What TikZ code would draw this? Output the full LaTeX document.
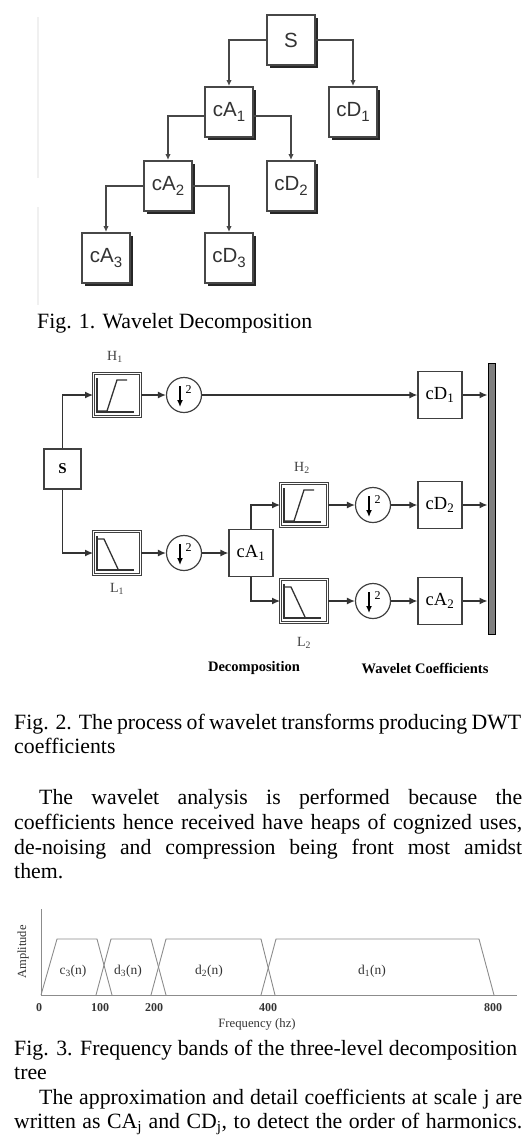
\documentclass[tikz,border=0pt]{standalone}
\usepackage{fontspec}
\setmainfont{Liberation Serif}
\newfontfamily\arialfont{Liberation Sans}
\usetikzlibrary{arrows.meta,shadows}
\newcommand\treesub[1]{\raisebox{-0.28em}{\fontsize{15}{15}\selectfont #1}}
\tikzset{
  treebox/.style={draw=black!72,line width=2pt,fill=white,minimum width=48pt,minimum height=50pt,inner sep=0pt,
                  font=\arialfont\fontsize{20.5}{20.5}\selectfont,text=black!80,
                  drop shadow={shadow xshift=3pt,shadow yshift=-3pt,fill=black!85,opacity=1}},
  treeedge/.style={draw=black!72,line width=2.2pt,-{Latex[length=6pt,width=5.5pt]}},
  coefbox/.style={draw=black!75,line width=1.2pt,fill=white,minimum width=44pt,minimum height=47pt,inner sep=0pt,
                  font=\fontsize{18.5}{18.5}\selectfont},
  filtbox/.style={draw=black!75,line width=0.9pt,double=white,double distance=1.3pt,minimum width=47pt,
                  minimum height=43pt,inner sep=0pt},
  icon/.style={draw=black!80,line width=1.3pt},
  dsamp/.style={circle,draw=black!75,line width=1.2pt,minimum size=35pt,inner sep=0pt},
  flow/.style={draw=black!80,line width=1.3pt,-{Latex[length=8pt,width=7pt]}},
  flabel/.style={font=\fontsize{14}{14}\selectfont,text=black!75,inner sep=0pt},
  band/.style={draw=black!45,line width=0.9pt},
  glabel/.style={font=\fontsize{13.5}{13.5}\selectfont,text=black!80,inner sep=0pt},
  txt/.style={anchor=base west,inner sep=0pt,font=\fontsize{21.8}{24}\selectfont},
}

\begin{document}
\begin{tikzpicture}[x=1pt,y=-1pt]
  \useasboundingbox (0,0) rectangle (526,1136);

  % Fig. 1: the decomposition tree
  \draw[black!6,line width=1.5pt] (38,17) -- (38,178) (38,207) -- (38,305);
  \node[treebox] (s)   at (291,40)  {S};
  \node[treebox] (ca1) at (229,112) {cA\treesub{1}};
  \node[treebox] (cd1) at (353,112) {cD\treesub{1}};
  \node[treebox] (ca2) at (168,186) {cA\treesub{2}};
  \node[treebox] (cd2) at (291,186) {cD\treesub{2}};
  \node[treebox] (ca3) at (106,258) {cA\treesub{3}};
  \node[treebox] (cd3) at (229,258) {cD\treesub{3}};
  \draw[treeedge] (s.west) -| (ca1.north);
  \draw[treeedge] (s.east) -| (cd1.north);
  \draw[treeedge] ([yshift=-4pt]ca1.west) -| (ca2.north);
  \draw[treeedge] ([yshift=-4pt]ca1.east) -| (cd2.north);
  \draw[treeedge] (ca2.west) -| (ca3.north);
  \draw[treeedge] (ca2.east) -| (cd3.north);
  \node[txt] (cap1) at (37,328) {Fig. 1. Wavelet Decomposition};

  % Fig. 2: filter bank
  \node[draw=black!75,line width=1.2pt,minimum width=37pt,minimum height=40pt,inner sep=0pt,
        font=\bfseries\fontsize{15}{15}\selectfont] (sig) at (62.5,469) {S};
  \node[filtbox] (h1) at (117,395) {};
  \node[filtbox] (l1) at (117,553) {};
  \node[dsamp] (d1) at (184,395) {};
  \node[dsamp] (d2) at (184,553) {};
  \node[coefbox] (a1) at (251,553) {cA\textsubscript{1}};
  \node[filtbox] (h2) at (304,505) {};
  \node[filtbox] (l2) at (304,601) {};
  \node[dsamp] (d3) at (373,505) {};
  \node[dsamp] (d4) at (373,601) {};
  \node[coefbox] (o1) at (440,395) {cD\textsubscript{1}};
  \node[coefbox] (o2) at (440,505) {cD\textsubscript{2}};
  \node[coefbox] (o3) at (440,601) {cA\textsubscript{2}};
  \node[draw=black,line width=1pt,fill=black!50,minimum width=7pt,minimum height=271pt,inner sep=0pt]
        (bar) at (491.5,498.5) {};
  \node[flabel] (lh1) at (115,357) {H\textsubscript{1}};
  \node[flabel] (ll1) at (117,589) {L\textsubscript{1}};
  \node[flabel] (lh2) at (302,468) {H\textsubscript{2}};
  \node[flabel] (ll2) at (304,643) {L\textsubscript{2}};

  \foreach \f in {h1,h2}{
    \draw[icon,shift={(\f.center)}] (-20,-17) -- (-20,17) -- (17,17);
    \draw[icon,shift={(\f.center)}] (-20,16) -- (-10,16) -- (0,-15) -- (10,-15);
  }
  \foreach \f in {l1,l2}{
    \draw[icon,shift={(\f.center)}] (-20,-17) -- (-20,17) -- (17,17);
    \draw[icon,shift={(\f.center)}] (-20,-14) -- (-13,-14) -- (1,16);
  }
  \foreach \d in {d1,d2,d3,d4}{
    \draw[line width=1.3pt,-{Latex[length=7pt,width=6pt]}] ([shift={(-4,-9)}]\d.center) -- ([shift={(-4,12)}]\d.center);
    \node[font=\fontsize{12}{12}\selectfont,inner sep=0pt] (\d-two) at ([shift={(4.5,-5)}]\d.center) {2};
  }

  \draw[flow] (sig.north) |- (h1.west);
  \draw[flow] (sig.south) |- (l1.west);
  \draw[flow] (h1) -- (d1);
  \draw[flow] (l1) -- (d2);
  \draw[flow] (d1) -- (o1);
  \draw[flow] (d2) -- (a1);
  \draw[flow] (a1.north) |- (h2.west);
  \draw[flow] (a1.south) |- (l2.west);
  \draw[flow] (h2) -- (d3);
  \draw[flow] (l2) -- (d4);
  \draw[flow] (d3) -- (o2);
  \draw[flow] (d4) -- (o3);
  \foreach \o in {o1,o2,o3}{\draw[flow] (\o) -- (\o -| bar.west);}

  \node[font=\bfseries\fontsize{14.5}{14.5}\selectfont,inner sep=0pt] (dec) at (254,668) {Decomposition};
  \node[font=\bfseries\fontsize{14.5}{14.5}\selectfont,inner sep=0pt] (wco) at (425,668) {Wavelet Coefficients};

  \node[txt] (cap2a) at (14,729) {\makebox[507pt][s]{Fig. 2. The process of wavelet transforms producing DWT}};
  \node[txt] (cap2b) at (14,753) {coefficients};
  \node[txt] (par1a) at (39,804) {\makebox[483pt][s]{The wavelet analysis is performed because the}};
  \node[txt] (par1b) at (14,829) {\makebox[508pt][s]{coefficients hence received have heaps of cognized uses,}};
  \node[txt] (par1c) at (14,854) {\makebox[508pt][s]{de-noising and compression being front most amidst}};
  \node[txt] (par1d) at (14,878) {them.};

  % Fig. 3: frequency bands
  \draw[band] (41,909) -- (41,995) -- (517,995);
  \foreach \a/\b/\c/\d in {41/57/97/112, 96/111/151/166, 151/166/261/275, 261/276/479/494}{
    \draw[band] (\a,995) -- (\b,939) -- (\c,939) -- (\d,995);
  }
  \node[glabel] (bc3) at (73,971)  {c\textsubscript{3}(n)};
  \node[glabel] (bd3) at (128,971) {d\textsubscript{3}(n)};
  \node[glabel] (bd2) at (209,971) {d\textsubscript{2}(n)};
  \node[glabel] (bd1) at (372,971) {d\textsubscript{1}(n)};
  \node[glabel,rotate=90,font=\fontsize{12.5}{12.5}\selectfont] (amp) at (23,952) {Amplitude};
  \foreach \x/\t in {39/0,100/100,154/200,268/400,493/800}{
    \node[font=\bfseries\fontsize{12}{12}\selectfont,text=black!80,inner sep=0pt] (tick\t) at (\x,1008) {\t};
  }
  \node[glabel,font=\fontsize{12.7}{12.7}\selectfont] (freq) at (257,1024) {Frequency (hz)};

  \node[txt] (cap3a) at (14,1055) {\makebox[503pt][s]{Fig. 3. Frequency bands of the three-level decomposition}};
  \node[txt] (cap3b) at (14,1079) {tree};
  \node[txt] (par2a) at (39,1104) {\makebox[483pt][s]{The approximation and detail coefficients at scale j are}};
  \node[txt] (par2b) at (14,1128) {\makebox[508pt][s]{written as CA\textsubscript{j} and CD\textsubscript{j}, to detect the order of harmonics.}};
\end{tikzpicture}
\end{document}
